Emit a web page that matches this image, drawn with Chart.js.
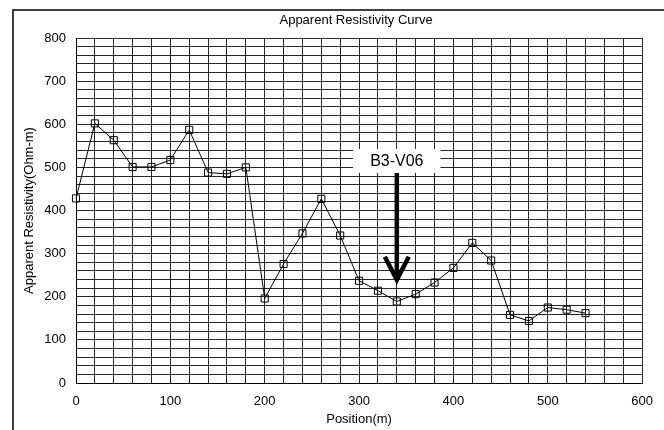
<!DOCTYPE html>
<html><head><meta charset="utf-8">
<script src="https://cdn.jsdelivr.net/npm/chart.js@4.4.1/dist/chart.umd.min.js"></script>
<style>html,body{margin:0;padding:0;background:#fff;}#wrap{width:664px;height:430px;}</style>
</head><body><div id="wrap"><canvas id="c" width="664" height="430"></canvas></div>
<script>
// ---- data ----
const positions = [0,20,40,60,80,100,120,140,160,180,200,220,240,260,280,300,320,340,360,380,400,420,440,460,480,500,520,540];
const resistivity = [428,602,563,501,501,517,587,488,485,500,196,276,347,427,342,237,214,189,206,233,267,325,284,158,144,175,170,162];
const xTickValues = [0,100,200,300,400,500,600];
const yTickValues = [0,100,200,300,400,500,600,700,800];
const chartTitle = 'Apparent Resistivity Curve';
const xAxisTitle = 'Position(m)';
const yAxisTitle = 'Apparent Resistivity(Ohm-m)';
const annotationLabel = 'B3-V06';
const annotationX = 340;
const annotationLabelY = 515;
const arrowFrom = 487;
const arrowTo = 230;

const FONT = '"Liberation Sans", Arial, sans-serif';

const decor = {
  id: 'decor',
  beforeDraw(chart) {
    const ctx = chart.ctx;
    ctx.save();
    ctx.fillStyle = '#fff';
    ctx.fillRect(0, 0, chart.width, chart.height);
    ctx.strokeStyle = '#000';
    ctx.lineWidth = 1.5;
    ctx.beginPath();
    ctx.moveTo(13, chart.height + 2);
    ctx.lineTo(13, 10);
    ctx.lineTo(chart.width + 2, 10);
    ctx.stroke();
    ctx.restore();
  },
  afterDraw(chart) {
    const ctx = chart.ctx;
    const a = chart.chartArea;
    const xs = chart.scales.x, ys = chart.scales.y;
    const cx = (a.left + a.right) / 2, cy = (a.top + a.bottom) / 2;
    ctx.save();
    ctx.fillStyle = '#000';
    ctx.font = '13px ' + FONT;
    ctx.textAlign = 'center';
    ctx.textBaseline = 'middle';
    ctx.fillText(chartTitle, cx - 3, 20);
    ctx.fillText(xAxisTitle, cx, 419);
    ctx.save();
    ctx.translate(29, cy);
    ctx.rotate(-Math.PI / 2);
    ctx.fillText(yAxisTitle, 0, 0);
    ctx.restore();

    // annotation
    const x = xs.getPixelForValue(annotationX);
    const ly = ys.getPixelForValue(annotationLabelY);
    ctx.font = '16px ' + FONT;
    const tw = ctx.measureText(annotationLabel).width;
    ctx.fillStyle = '#fff';
    ctx.fillRect(x - tw / 2 - 17, ly - 12, tw + 34, 24);
    ctx.fillStyle = '#000';
    ctx.fillText(annotationLabel, x, ly + 1);

    const y0 = ys.getPixelForValue(arrowFrom);
    const y1 = ys.getPixelForValue(arrowTo);
    ctx.strokeStyle = '#000';
    ctx.lineWidth = 4.5;
    ctx.lineCap = 'butt';
    ctx.beginPath();
    ctx.moveTo(x, y0);
    ctx.lineTo(x, y1 - 6);
    ctx.stroke();
    ctx.lineJoin = 'miter';
    ctx.miterLimit = 10;
    ctx.beginPath();
    ctx.moveTo(x - 12, y1 - 27);
    ctx.lineTo(x, y1 - 4);
    ctx.lineTo(x + 12, y1 - 27);
    ctx.stroke();
    ctx.restore();
  }
};

new Chart(document.getElementById('c'), {
  type: 'line',
  data: {
    datasets: [{
      data: positions.map((p, i) => ({ x: p, y: resistivity[i] })),
      borderColor: '#000',
      borderWidth: 1,
      backgroundColor: 'rgba(0,0,0,0)',
      pointStyle: 'rect',
      pointRadius: 5,
      pointBorderColor: '#000',
      pointBorderWidth: 1,
      pointBackgroundColor: 'rgba(0,0,0,0)',
      tension: 0,
      fill: false,
      clip: false
    }]
  },
  options: {
    responsive: false,
    animation: false,
    devicePixelRatio: 1,
    layout: { padding: { top: 38, right: 15, left: 0, bottom: 0 } },
    plugins: { legend: { display: false }, title: { display: false }, tooltip: { enabled: false } },
    scales: {
      x: {
        type: 'linear', min: 0, max: 600,
        ticks: {
          stepSize: 20, autoSkip: false, maxRotation: 0, padding: 11,
          color: '#000', font: { family: FONT, size: 13 },
          callback: v => xTickValues.includes(v) ? String(v) : ''
        },
        grid: { color: 'rgba(0,0,0,0.85)', lineWidth: 1, drawTicks: false },
        border: { display: true, color: '#000', width: 1 },
        afterFit: s => { s.height = 47; }
      },
      y: {
        min: 0, max: 800,
        ticks: {
          stepSize: 20, autoSkip: false, padding: 10,
          color: '#000', font: { family: FONT, size: 13 },
          callback: v => yTickValues.includes(v) ? String(v) : ''
        },
        grid: { color: 'rgba(0,0,0,0.85)', lineWidth: 1, drawTicks: false },
        border: { display: true, color: '#000', width: 1 },
        afterFit: s => { s.width = 76; }
      }
    }
  },
  plugins: [decor]
});
</script>
</body></html>
